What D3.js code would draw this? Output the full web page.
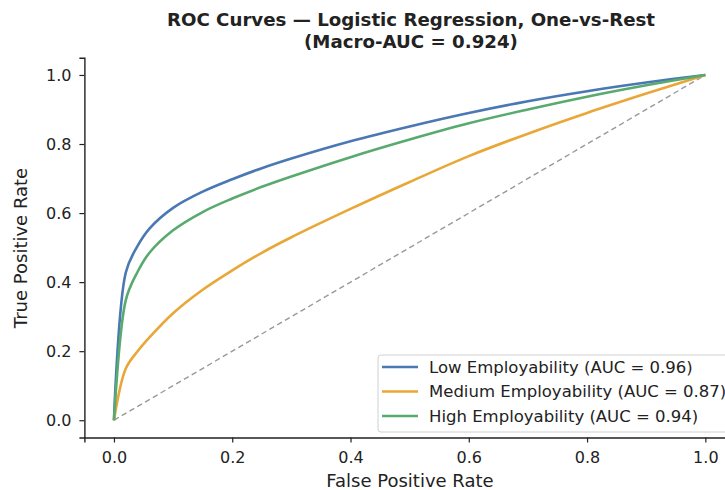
<!DOCTYPE html>
<html>
<head>
<meta charset="utf-8">
<script src="https://cdn.jsdelivr.net/npm/d3@7"></script>
<style>
  body { margin: 0; background: #fff; }
  text { font-family: "DejaVu Sans", sans-serif; fill: #222; }
</style>
</head>
<body>
<div id="chart"></div>
<script>
// data
const fpr = [0, 0.02, 0.04, 0.06, 0.1, 0.15, 0.2, 0.25, 0.3, 0.4, 0.5, 0.6, 0.7, 0.8, 0.9, 1.0];
const tprLow = [0, 0.428, 0.505, 0.555, 0.615, 0.662, 0.698, 0.73, 0.758, 0.808, 0.851, 0.89, 0.924, 0.953, 0.978, 1.0];
const tprMedium = [0, 0.15, 0.2, 0.24, 0.31, 0.378, 0.434, 0.485, 0.53, 0.612, 0.69, 0.765, 0.83, 0.89, 0.946, 1.0];
const tprHigh = [0, 0.348, 0.43, 0.485, 0.55, 0.603, 0.642, 0.676, 0.706, 0.762, 0.813, 0.86, 0.9, 0.937, 0.97, 1.0];
const seriesNames = ["Low Employability (AUC = 0.96)", "Medium Employability (AUC = 0.87)", "High Employability (AUC = 0.94)"];
const seriesColors = ["#4a78b2", "#e8a737", "#58aa6e"];
const ticks = [0, 0.2, 0.4, 0.6, 0.8, 1.0];

const W = 725, H = 490;
const svg = d3.select("#chart").append("svg").attr("width", W).attr("height", H);

// matplotlib style 5% margins round 0..1 (right side runs off the picture)
const x = d3.scaleLinear().domain([-0.05, 1.05]).range([84.4, 734.9]);
const y = d3.scaleLinear().domain([-0.05, 1.05]).range([437.5, 57.7]);

// title
svg.append("text").attr("x", 411).attr("y", 26).attr("text-anchor", "middle")
  .style("font-weight", "bold").style("font-size", "18.2px")
  .text("ROC Curves \u2014 Logistic Regression, One-vs-Rest");
svg.append("text").attr("x", 411).attr("y", 48).attr("text-anchor", "middle")
  .style("font-weight", "bold").style("font-size", "18.2px")
  .text("(Macro-AUC = 0.924)");

// chance line
svg.append("path")
  .attr("d", d3.line()([[x(0), y(0)], [x(1), y(1)]]))
  .attr("fill", "none").attr("stroke", "#999").attr("stroke-width", 1.4)
  .attr("stroke-dasharray", "5.5,3.5");

const line = d3.line().x(d => x(d[0])).y(d => y(d[1])).curve(d3.curveCatmullRom.alpha(0.5));
const series = [tprLow, tprMedium, tprHigh];
series.forEach((tpr, i) => {
  svg.append("path")
    .attr("d", line(fpr.map((f, j) => [f, tpr[j]])))
    .attr("fill", "none").attr("stroke", seriesColors[i]).attr("stroke-width", 2.6);
});

// axes (left + bottom spines only)
const xAxis = svg.append("g").attr("transform", `translate(0,${y(-0.05)})`)
  .call(d3.axisBottom(x).tickValues(ticks).tickFormat(d3.format(".1f")).tickSizeOuter(0).tickSize(5).tickPadding(9));
const yAxis = svg.append("g").attr("transform", `translate(${x(-0.05)},0)`)
  .call(d3.axisLeft(y).tickValues(ticks).tickFormat(d3.format(".1f")).tickSizeOuter(0).tickSize(5).tickPadding(8));
[xAxis, yAxis].forEach(g => {
  g.selectAll("text").style("font-size", "16px").style("font-family", "DejaVu Sans").attr("fill", "#222");
  g.selectAll("line").attr("stroke", "#222").attr("stroke-width", 1.2);
  g.select(".domain").attr("stroke", "#222").attr("stroke-width", 1.4);
});

svg.append("text").attr("x", 410).attr("y", 487).attr("text-anchor", "middle")
  .style("font-size", "18px").text("False Positive Rate");
svg.append("text").attr("transform", `translate(27,248) rotate(-90)`).attr("text-anchor", "middle")
  .style("font-size", "18px").text("True Positive Rate");

// legend
const lg = svg.append("g").attr("transform", "translate(378,355)");
lg.append("rect").attr("width", 370).attr("height", 77).attr("rx", 3)
  .attr("fill", "#fff").attr("fill-opacity", 0.85).attr("stroke", "#d0d0d0");
seriesNames.forEach((name, i) => {
  const yy = 12 + i * 24.5;
  lg.append("line").attr("x1", 4).attr("x2", 40).attr("y1", yy).attr("y2", yy)
    .attr("stroke", seriesColors[i]).attr("stroke-width", 2.6);
  lg.append("text").attr("x", 51).attr("y", yy).attr("dy", "0.35em")
    .style("font-size", "16.5px").text(name);
});
</script>
</body>
</html>
